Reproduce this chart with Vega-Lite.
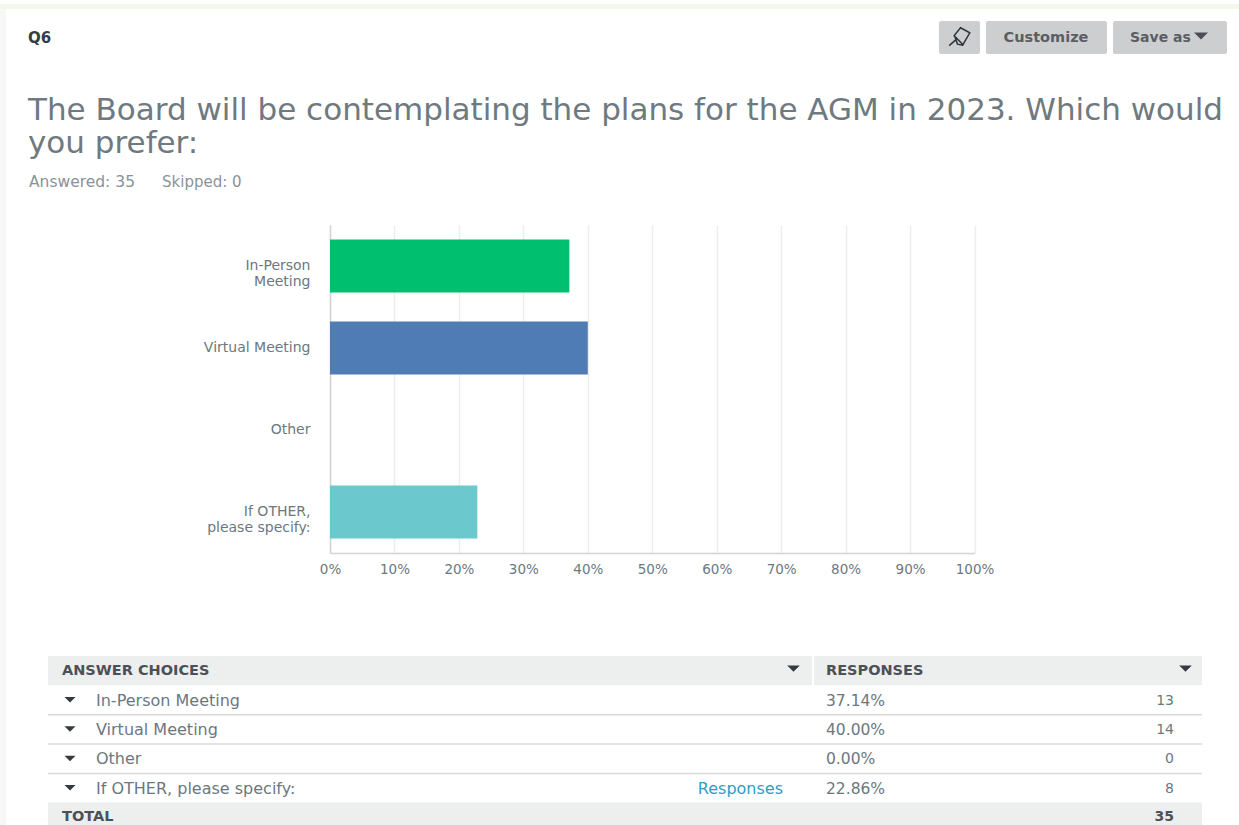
{
"$schema":"https://vega.github.io/schema/vega-lite/v6.json",
"background":"#ffffff",
"padding":0,
"spacing":0,
"bounds":"flush",
"config":{"view":{"stroke":null},"concat":{"spacing":0},"font":"DejaVu Sans","text":{"font":"DejaVu Sans"}},
"datasets":{
"answers":[
{"answer":"In-Person Meeting","share":0.3714,"count":13},
{"answer":"Virtual Meeting","share":0.4,"count":14},
{"answer":"Other","share":0,"count":0},
{"answer":"If OTHER, please specify:","share":0.2286,"count":8}]
},
"vconcat":[
{"width":1239,"height":5,"view":{"fill":"#f3f8ec","stroke":null},"data":{"values":[{"page":"top strip"}]},"mark":{"type":"text"},"encoding":{}},
{"spacing":0,"bounds":"flush","hconcat":[
{"width":6,"height":820,"view":{"fill":"#f6f7f6","stroke":null},"data":{"values":[{"page":"left gutter"}]},"mark":{"type":"text"},"encoding":{}},
{"spacing":0,"bounds":"flush","vconcat":[
{"width":1233,"height":216,
"layer":[
{"data":{"values":[{"button":"pin"}]},
"mark":{"type":"rect","width":41,"height":33,"cornerRadius":2,"color":"#cdced0","xOffset":-279.5,"yOffset":0.5},
"encoding":{"x":{"datum":"right","type":"nominal","scale":{"type":"point","domain":["left","right"],"range":[0,1233],"padding":0},"axis":null},
"y":{"datum":"q","type":"nominal","scale":{"type":"point","domain":["q","gap","title1","title2","stats"],"range":[28,172],"padding":0},"axis":null}}},
{"data":{"values":[{"button":"customize"}]},
"mark":{"type":"rect","width":121,"height":33,"cornerRadius":2,"color":"#cdced0","xOffset":-192.5,"yOffset":0.5},
"encoding":{"x":{"datum":"right","type":"nominal","axis":null},"y":{"datum":"q","type":"nominal","axis":null}}},
{"data":{"values":[{"button":"save"}]},
"mark":{"type":"rect","width":114,"height":33,"cornerRadius":2,"color":"#cdced0","xOffset":-69,"yOffset":0.5},
"encoding":{"x":{"datum":"right","type":"nominal","axis":null},"y":{"datum":"q","type":"nominal","axis":null}}},
{"data":{"values":[{"icon":"pin"}]},
"mark":{"type":"point","shape":"M0.05,-0.45L0.5,-0.2L0.15,0.4L-0.1,0.35L-0.2,0.05L-0.25,-0.08ZM-0.2,0.15L-0.5,0.42M-0.28,-0.08L0.2,0.4","size":1700,"filled":false,"stroke":"#2f3439","strokeWidth":1.5,"opacity":1,"xOffset":-279.5},
"encoding":{"x":{"datum":"right","type":"nominal","axis":null},"y":{"datum":"q","type":"nominal","axis":null}}},
{"data":{"values":[{"icon":"caret"}]},
"mark":{"type":"point","shape":"M-0.5,-0.25L0.5,-0.25L0,0.25Z","size":784,"filled":true,"color":"#4a4f55","opacity":1,"xOffset":-38,"yOffset":-1},
"encoding":{"x":{"datum":"right","type":"nominal","axis":null},"y":{"datum":"q","type":"nominal","axis":null}}},
{"data":{"values":[{"label":"Customize"}]},
"mark":{"type":"text","fontWeight":"bold","fontSize":14.5,"color":"#5a5e63","align":"center","baseline":"middle","xOffset":-193,"yOffset":0.5},
"encoding":{"x":{"datum":"right","type":"nominal","axis":null},"y":{"datum":"q","type":"nominal","axis":null},"text":{"field":"label"}}},
{"data":{"values":[{"label":"Save as"}]},
"mark":{"type":"text","fontWeight":"bold","fontSize":14,"color":"#5a5e63","align":"left","baseline":"middle","xOffset":-109,"yOffset":0.5},
"encoding":{"x":{"datum":"right","type":"nominal","axis":null},"y":{"datum":"q","type":"nominal","axis":null},"text":{"field":"label"}}},
{"data":{"values":[{"label":"Q6"}]},
"mark":{"type":"text","fontWeight":"bold","fontSize":15,"color":"#333e48","align":"left","baseline":"middle","xOffset":22,"yOffset":1},
"encoding":{"x":{"datum":"left","type":"nominal","axis":null},"y":{"datum":"q","type":"nominal","axis":null},"text":{"field":"label"}}},
{"data":{"values":[{"label":"The Board will be contemplating the plans for the AGM in 2023.  Which would"}]},
"mark":{"type":"text","fontSize":31,"color":"#6f7980","align":"left","baseline":"middle","xOffset":22,"yOffset":2},
"encoding":{"x":{"datum":"left","type":"nominal","axis":null},"y":{"datum":"title1","type":"nominal","axis":null},"text":{"field":"label"}}},
{"data":{"values":[{"label":"you prefer:"}]},
"mark":{"type":"text","fontSize":31,"color":"#6f7980","align":"left","baseline":"middle","xOffset":22,"yOffset":-1},
"encoding":{"x":{"datum":"left","type":"nominal","axis":null},"y":{"datum":"title2","type":"nominal","axis":null},"text":{"field":"label"}}},
{"data":{"values":[{"label":"Answered: 35"}]},
"mark":{"type":"text","fontSize":15.5,"color":"#8a9299","align":"left","baseline":"middle","xOffset":23,"yOffset":1},
"encoding":{"x":{"datum":"left","type":"nominal","axis":null},"y":{"datum":"stats","type":"nominal","axis":null},"text":{"field":"label"}}},
{"data":{"values":[{"label":"Skipped: 0"}]},
"mark":{"type":"text","fontSize":15,"color":"#8a9299","align":"left","baseline":"middle","xOffset":156,"yOffset":1},
"encoding":{"x":{"datum":"left","type":"nominal","axis":null},"y":{"datum":"stats","type":"nominal","axis":null},"text":{"field":"label"}}}
]},
{"width":1233,"height":328,
"data":{"name":"answers"},
"mark":{"type":"bar","height":53},
"encoding":{
"x":{"field":"share","type":"quantitative","title":null,"scale":{"domain":[0,1],"range":[324,968.5]},
"axis":{"format":".0%","values":[0,0.1,0.2,0.3,0.4,0.5,0.6,0.7,0.8,0.9,1],"grid":true,"gridColor":"#ededed","gridWidth":1.5,"domainColor":"#d2d4d6","domainWidth":1.5,"ticks":false,"labelPadding":9,"labelFontSize":13.5,"labelColor":"#6b787f","labelFont":"DejaVu Sans","labelOverlap":false,"labelFlush":false}},
"y":{"field":"answer","type":"nominal","title":null,"sort":["In-Person Meeting","Virtual Meeting","Other","If OTHER, please specify:"],"scale":{"paddingInner":0,"paddingOuter":0},
"axis":{"offset":-324,"ticks":false,"labelPadding":20,"domainColor":"#d2d4d6","domainWidth":1.5,"labelFontSize":14,"labelColor":"#6b787f","labelFont":"DejaVu Sans","labelLineHeight":15.5,"labelLimit":300,
"encoding":{"labels":{"update":{"dy":{"signal":"datum.label=='Virtual Meeting'||datum.label=='Other'?0:-7.5"}}}},
"labelExpr":"datum.label=='In-Person Meeting'?['In-Person','Meeting']:datum.label=='If OTHER, please specify:'?['If OTHER,','please specify:']:datum.label"}},
"color":{"field":"answer","type":"nominal","legend":null,"scale":{"domain":["In-Person Meeting","Virtual Meeting","Other","If OTHER, please specify:"],"range":["#00bf6f","#507cb6","#f05b24","#6bc8cd"]}}
}},
{"width":1233,"height":276,
"layer":[
{"data":{"values":[{"row":"ANSWER CHOICES"},{"row":"TOTAL"}]},
"mark":{"type":"rect","height":29,"color":"#edeeee","clip":true},
"encoding":{"x":{"datum":"left","type":"nominal","scale":{"type":"point","domain":["left","right"],"range":[42,1196],"padding":0},"axis":null},"x2":{"datum":"right"},
"y":{"field":"row","type":"nominal","scale":{"type":"point","domain":["ANSWER CHOICES","In-Person Meeting","Virtual Meeting","Other","If OTHER, please specify:","TOTAL"],"range":[117.5,264],"padding":0},"axis":null}}},
{"data":{"values":[{"row":"ANSWER CHOICES"}]},
"mark":{"type":"rect","width":2,"height":29,"color":"#ffffff","xOffset":-389},
"encoding":{"x":{"datum":"right","type":"nominal","axis":null},"y":{"field":"row","type":"nominal","axis":null}}},
{"data":{"values":[{"row":"In-Person Meeting"},{"row":"Virtual Meeting"},{"row":"Other"}]},
"mark":{"type":"rule","color":"#d9dadb","strokeWidth":1.5,"yOffset":15},
"encoding":{"x":{"datum":"left","type":"nominal","axis":null},"x2":{"datum":"right"},"y":{"field":"row","type":"nominal","axis":null}}},
{"data":{"name":"answers"},
"mark":{"type":"point","shape":"M-0.5,-0.25L0.5,-0.25L0,0.25Z","size":484,"filled":true,"color":"#333a40","opacity":1,"xOffset":22},
"encoding":{"x":{"datum":"left","type":"nominal","axis":null},"y":{"field":"answer","type":"nominal","axis":null}}},
{"data":{"values":[{"row":"ANSWER CHOICES"}]},
"mark":{"type":"point","shape":"M-0.5,-0.25L0.5,-0.25L0,0.25Z","size":625,"filled":true,"color":"#333a40","opacity":1,"xOffset":-408.5,"yOffset":-2},
"encoding":{"x":{"datum":"right","type":"nominal","axis":null},"y":{"field":"row","type":"nominal","axis":null}}},
{"data":{"values":[{"row":"ANSWER CHOICES"}]},
"mark":{"type":"point","shape":"M-0.5,-0.25L0.5,-0.25L0,0.25Z","size":625,"filled":true,"color":"#333a40","opacity":1,"xOffset":-16.5,"yOffset":-2},
"encoding":{"x":{"datum":"right","type":"nominal","axis":null},"y":{"field":"row","type":"nominal","axis":null}}},
{"data":{"values":[{"row":"ANSWER CHOICES"},{"row":"TOTAL"}]},
"mark":{"type":"text","fontWeight":"bold","fontSize":14.5,"color":"#4b5157","align":"left","baseline":"middle","xOffset":14},
"encoding":{"x":{"datum":"left","type":"nominal","axis":null},"y":{"field":"row","type":"nominal","axis":null},"text":{"field":"row"}}},
{"data":{"values":[{"row":"ANSWER CHOICES","label":"RESPONSES"}]},
"mark":{"type":"text","fontWeight":"bold","fontSize":14.5,"color":"#4b5157","align":"left","baseline":"middle","xOffset":-376},
"encoding":{"x":{"datum":"right","type":"nominal","axis":null},"y":{"field":"row","type":"nominal","axis":null},"text":{"field":"label"}}},
{"data":{"values":[{"row":"TOTAL","total":35}]},
"mark":{"type":"text","fontWeight":"bold","fontSize":14,"color":"#4b5157","align":"right","baseline":"middle","xOffset":-28},
"encoding":{"x":{"datum":"right","type":"nominal","axis":null},"y":{"field":"row","type":"nominal","axis":null},"text":{"field":"total","type":"quantitative"}}},
{"data":{"name":"answers"},
"mark":{"type":"text","fontSize":16,"color":"#6b787f","align":"left","baseline":"middle","xOffset":48,"yOffset":1},
"encoding":{"x":{"datum":"left","type":"nominal","axis":null},"y":{"field":"answer","type":"nominal","axis":null},"text":{"field":"answer"}}},
{"data":{"name":"answers"},
"mark":{"type":"text","fontSize":15.5,"color":"#6b787f","align":"left","baseline":"middle","xOffset":-376,"yOffset":1},
"encoding":{"x":{"datum":"right","type":"nominal","axis":null},"y":{"field":"answer","type":"nominal","axis":null},"text":{"field":"share","type":"quantitative","format":".2%"}}},
{"data":{"name":"answers"},
"mark":{"type":"text","fontSize":14,"color":"#6b787f","align":"right","baseline":"middle","xOffset":-28,"yOffset":1},
"encoding":{"x":{"datum":"right","type":"nominal","axis":null},"y":{"field":"answer","type":"nominal","axis":null},"text":{"field":"count","type":"quantitative"}}},
{"data":{"values":[{"row":"If OTHER, please specify:","label":"Responses"}]},
"mark":{"type":"text","fontSize":16,"color":"#2f9dbf","align":"right","baseline":"middle","xOffset":-419,"yOffset":1},
"encoding":{"x":{"datum":"right","type":"nominal","axis":null},"y":{"field":"row","type":"nominal","axis":null},"text":{"field":"label"}}}
]}
]}
]}
]
}
